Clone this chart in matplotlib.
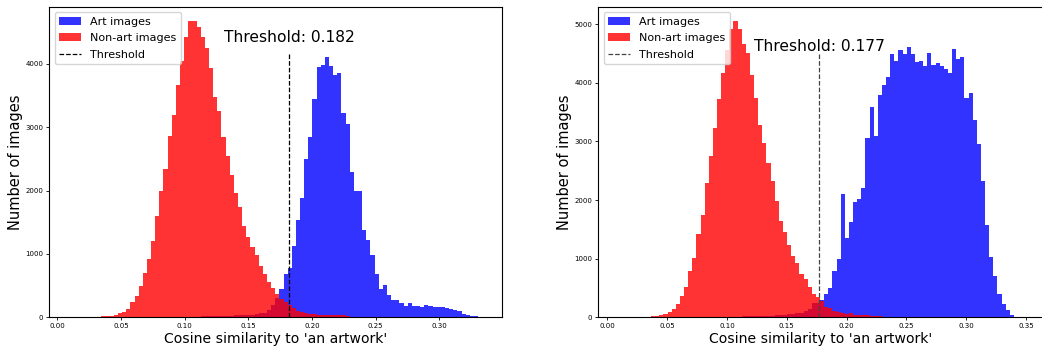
import numpy as np
import matplotlib
matplotlib.use("Agg")
import matplotlib.pyplot as plt

# ---- left panel: histogram counts per bin (common bin grid) ----
left_bins = (0.0054, 0.3304, 100)
left_threshold = 0.182
left_art = [2, 2, 2, 3, 3, 3, 3, 3, 4, 4,
            4, 4, 5, 5, 5, 5, 5, 6, 6, 6,
            6, 7, 7, 7, 8, 8, 8, 9, 9, 10,
            10, 11, 12, 13, 14, 15, 17, 19, 21, 24,
            27, 30, 35, 42, 30, 38, 48, 60, 75, 110,
            190, 300,
            453, 685, 775, 1128, 1540, 1880, 2500, 2840, 3445, 3950,
            3990, 4110, 3975, 3820, 3850, 3225, 3055, 2290, 2000, 2000,
            1380, 1220, 980, 685, 450, 505, 353, 275, 275, 220,
            180, 220, 180, 180, 163, 195, 180, 163, 163, 163,
            142, 126, 116, 100, 53, 37, 21, 21]
left_nonart = [3, 3, 4, 4, 5, 5, 6, 8, 10, 14,
               20, 28, 37, 63, 90, 130, 240, 340, 495, 695,
               920, 1205, 1600, 2000, 2345, 2855, 3200, 3675, 4040, 4420,
               4670, 4670, 4590, 4420, 4250, 3935, 3480, 3260, 2850, 2550,
               2250, 1960, 1740, 1445, 1270, 1117, 980, 810, 680, 560,
               460, 370, 290, 240, 190, 140, 105, 85, 70, 55,
               45, 40, 38, 35, 35, 33, 30, 30, 25]

# ---- right panel ----
right_bins = (-0.0014, 0.3434, 100)
right_threshold = 0.177
right_art = [0, 0, 0, 2, 2, 2, 3, 3, 3, 3,
             4, 4, 4, 4, 5, 5, 5, 5, 6, 6,
             6, 7, 7, 7, 8, 8, 9, 9, 10, 10,
             11, 12, 13, 14, 15, 16, 18, 20, 22, 25,
             30, 35, 40, 45, 50, 60, 65, 75, 100, 150,
             250, 250, 290,
             400, 500, 792, 998, 2110, 1357, 1630, 1967, 2024, 2212,
             3062, 3580, 3085, 3785, 3957, 4093, 4498, 4367, 4555, 4498,
             4612, 4487, 4356, 4367, 4287, 4515, 4298, 4333, 4282, 4230,
             4162, 4572, 4401, 4435, 3740, 3820, 3358, 2948, 2332, 1579,
             1032, 707, 400, 228, 125, 40, 10]
right_nonart = [0, 0, 0, 3, 3, 4, 4, 5, 6, 8,
                10, 15, 22, 34, 57, 91, 148, 228, 365, 525,
                792, 1015, 1420, 1750, 2292, 2760, 3221, 3729, 4173, 4555,
                4926, 5046, 4926, 4658, 4515, 4140, 3734, 3272, 2976, 2634,
                2330, 1990, 1648, 1454, 1231, 1043, 924, 735, 650, 519,
                400, 353, 280, 182, 154, 114, 97, 80, 57, 68,
                40, 40, 40, 40, 28, 23, 23]

W, H = 1042, 348


def draw_panel(ax, bins, art, nonart, threshold, text_y, line_color):
    edges = np.linspace(*bins[:2], bins[2] + 1)
    n = len(art)
    ax.hist(edges[:n], bins=edges[:n + 1], weights=art, color="blue",
            alpha=0.8, label="Art images")
    n = len(nonart)
    ax.hist(edges[:n], bins=edges[:n + 1], weights=nonart, color="red",
            alpha=0.8, label="Non-art images")
    ax.axvline(threshold, ymax=0.85, color=line_color, linestyle="--",
               linewidth=0.9, label="Threshold")
    ax.text(threshold, text_y, f"Threshold: {threshold:.3f}",
            transform=ax.get_xaxis_transform(), ha="center", va="center",
            fontsize=11.2)
    ax.set_ylim(0, max(max(art), max(nonart)) * 1.05)
    ax.set_xlabel("Cosine similarity to 'an artwork'", fontsize=10.1, labelpad=2)
    ax.set_ylabel("Number of images", fontsize=10.5, labelpad=2)
    ax.tick_params(labelsize=5, length=2, width=0.6, pad=2)
    ax.legend(loc="upper left", fontsize=8, handlelength=2.0,
              borderaxespad=0.5, labelspacing=0.58)


fig = plt.figure(figsize=(W / 100, H / 100), dpi=100)
ax1 = fig.add_axes([49 / W, (H - 317.3) / H, (502 - 49) / W, (317.3 - 6.7) / H])
ax2 = fig.add_axes([598 / W, (H - 317.3) / H, (1044 - 598) / W, (317.3 - 6.7) / H])

draw_panel(ax1, left_bins, left_art, left_nonart, left_threshold, 0.902, "black")
ax1.set_xlim(-0.0065, 0.3492)
ax1.set_xticks([0.0, 0.05, 0.10, 0.15, 0.20, 0.25, 0.30])

draw_panel(ax2, right_bins, right_art, right_nonart, right_threshold, 0.873, "#444444")
ax2.set_xlim(-0.0078, 0.3651)
ax2.set_xticks([0.0, 0.05, 0.10, 0.15, 0.20, 0.25, 0.30, 0.35])

fig.savefig("out.png", dpi=100)
